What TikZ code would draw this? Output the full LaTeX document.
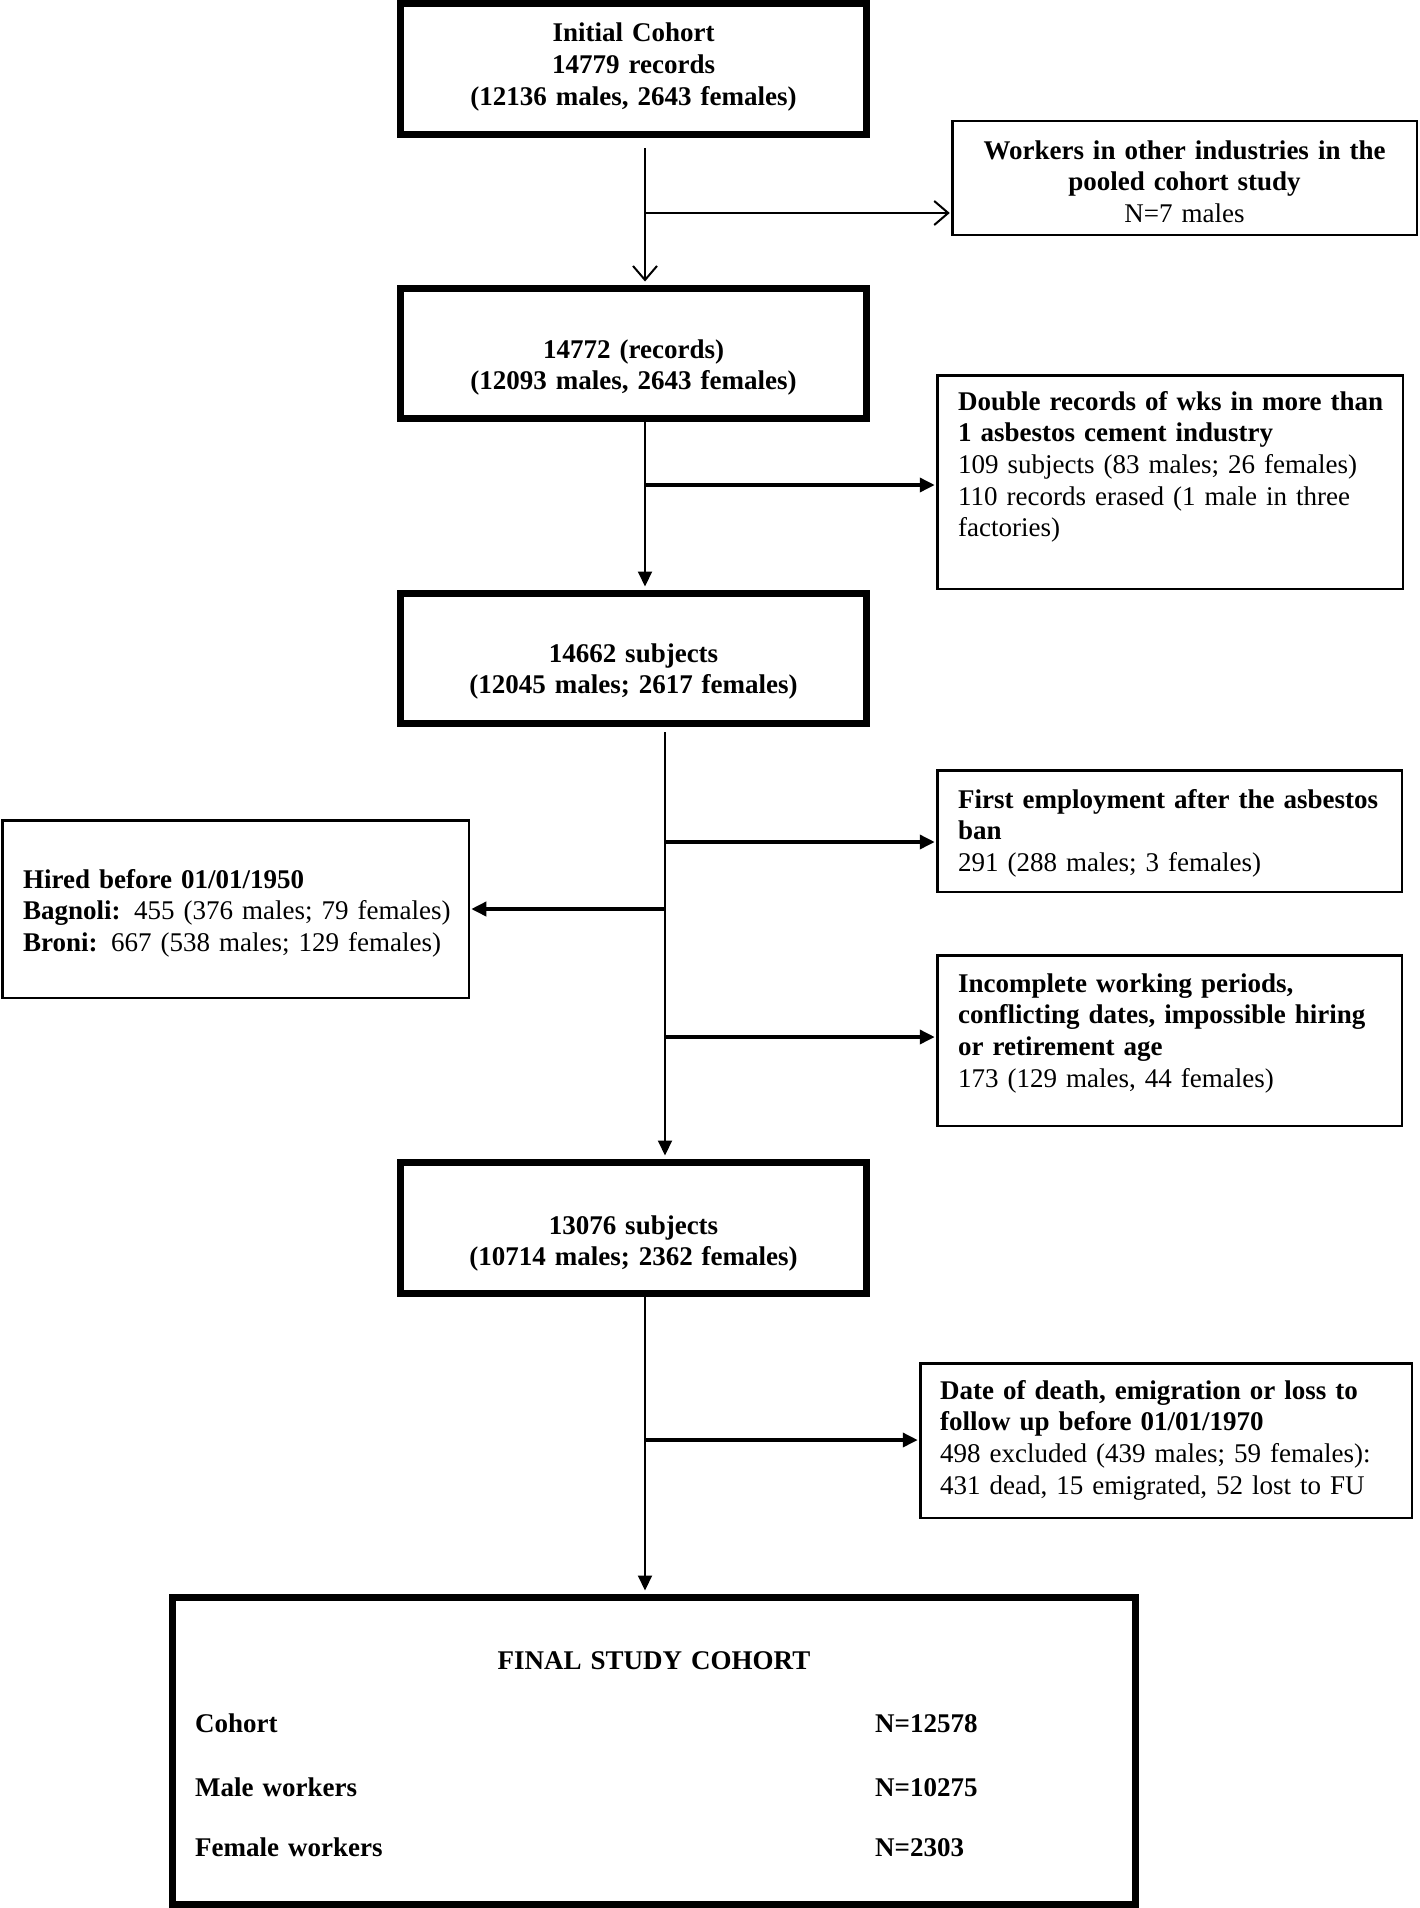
\documentclass[tikz,border=0pt]{standalone}
\usepackage{fontspec}
\setmainfont{Liberation Serif}
\usetikzlibrary{arrows.meta}
\newcommand{\diafont}{\fontsize{27}{31.7}\selectfont}
\tikzset{
  fillhead/.tip={Triangle[length=15pt,width=14pt]},
  openhead/.tip={Straight Barb[length=14pt,width=24pt,line width=2pt]},
  thickbox/.style={draw,line width=7pt,inner sep=0pt},
  thinbox/.style={draw,line width=2.5pt,inner sep=0pt},
  vline/.style={line width=2pt},
  bline/.style={line width=3.5pt},
  ctext/.style={anchor=base,align=center,text width=460pt,inner sep=0pt,font=\diafont},
  ltext/.style={anchor=base west,align=left,text width=470pt,inner sep=0pt,font=\diafont},
}
\begin{document}
\begin{tikzpicture}[x=1pt,y=-1pt]
\fill[white] (0,0) rectangle (1419,1908);
\useasboundingbox (0,0) rectangle (1419,1908);

% main boxes
\node[thickbox,minimum width=466pt,minimum height=131pt] (box1) at (633.5,69) {};
\node[thickbox,minimum width=466pt,minimum height=130pt] (box2) at (633.5,353.5) {};
\node[thickbox,minimum width=466pt,minimum height=130pt] (box3) at (633.5,658.5) {};
\node[thickbox,minimum width=466pt,minimum height=131pt] (box4) at (633.5,1228) {};
\node[thickbox,minimum width=963pt,minimum height=307pt] (box5) at (654,1751) {};

% side boxes
\node[thinbox,minimum width=464.5pt,minimum height=113.5pt] (r1) at (1184.5,178) {};
\node[thinbox,minimum width=465.5pt,minimum height=213.5pt] (r2) at (1170,482) {};
\node[thinbox,minimum width=464.5pt,minimum height=121.5pt] (r3) at (1169.5,831) {};
\node[thinbox,minimum width=464.5pt,minimum height=170.5pt] (r4) at (1169.5,1040.5) {};
\node[thinbox,minimum width=466.5pt,minimum height=177.5pt] (lft) at (235.5,909) {};
\node[thinbox,minimum width=491.5pt,minimum height=154.5pt] (r5) at (1166,1440.5) {};

% texts
\node[ctext] (t1) at (633.5,42) {\textbf{Initial Cohort}\\\textbf{14779 records}\\\textbf{(12136 males, 2643 females)}};
\node[ctext] (tr1) at (1184.5,159) {\textbf{Workers in other industries in the}\\\textbf{pooled cohort study}\\N=7 males};
\node[ctext] (t2) at (633.5,358) {\textbf{14772 (records)}\\\textbf{(12093 males, 2643 females)}};
\node[ltext] (tr2) at (958,410) {\textbf{Double records of wks in more than}\\\textbf{1 asbestos cement industry}\\109 subjects (83 males; 26 females)\\110 records erased (1 male in three\\factories)};
\node[ctext] (t3) at (633.5,662) {\textbf{14662 subjects}\\\textbf{(12045 males; 2617 females)}};
\node[ltext] (tl) at (23,888) {\textbf{Hired before 01/01/1950}\\\textbf{Bagnoli:} 455 (376 males; 79 females)\\\textbf{Broni:} 667 (538 males; 129 females)};
\node[ltext] (tr3) at (958,808) {\textbf{First employment after the asbestos}\\\textbf{ban}\\291 (288 males; 3 females)};
\node[ltext] (tr4) at (958,992) {\textbf{Incomplete working periods,}\\\textbf{conflicting dates, impossible hiring}\\\textbf{or retirement age}\\173 (129 males, 44 females)};
\node[ctext] (t4) at (633.5,1234) {\textbf{13076 subjects}\\\textbf{(10714 males; 2362 females)}};
\node[ltext] (tr5) at (940,1399) {\textbf{Date of death, emigration or loss to}\\\textbf{follow up before 01/01/1970}\\498 excluded (439 males; 59 females):\\431 dead, 15 emigrated, 52 lost to FU};

\node[ctext] (tf) at (654,1669) {\textbf{FINAL STUDY COHORT}};
\node[ltext] (fa) at (195,1732) {\textbf{Cohort}};
\node[ltext] (fb) at (195,1796) {\textbf{Male workers}};
\node[ltext] (fc) at (195,1856) {\textbf{Female workers}};
\node[ltext] (na) at (875,1732) {\textbf{N=12578}};
\node[ltext] (nb) at (875,1796) {\textbf{N=10275}};
\node[ltext] (nc) at (875,1856) {\textbf{N=2303}};

% connectors
\coordinate (s1) at (645,148);
\coordinate (j1) at (645,213);
\draw[vline,-openhead,shorten >=3.5pt] (s1) -- (s1 |- box2.north);
\draw[vline,-openhead,shorten >=1.25pt] (j1) -- (j1 -| r1.west);

\coordinate (j2) at (645,485);
\draw[vline,-fillhead,shorten >=3.5pt] (box2.south -| j2) -- (box3.north -| j2);
\draw[bline,-fillhead,shorten >=1.25pt] (j2) -- (j2 -| r2.west);

\coordinate (s3) at (665,732);
\coordinate (j3a) at (665,842);
\coordinate (j3b) at (665,909);
\coordinate (j3c) at (665,1037);
\draw[vline,-fillhead,shorten >=3.5pt] (s3) -- (s3 |- box4.north);
\draw[bline,-fillhead,shorten >=1.25pt] (j3a) -- (j3a -| r3.west);
\draw[bline,-fillhead,shorten >=1.25pt] (j3b) -- (j3b -| lft.east);
\draw[bline,-fillhead,shorten >=1.25pt] (j3c) -- (j3c -| r4.west);

\coordinate (j4) at (645,1440);
\draw[vline,-fillhead,shorten >=3.5pt] (box4.south -| j4) -- (box5.north -| j4);
\draw[bline,-fillhead,shorten >=1.25pt] (j4) -- (j4 -| r5.west);
\end{tikzpicture}
\end{document}
